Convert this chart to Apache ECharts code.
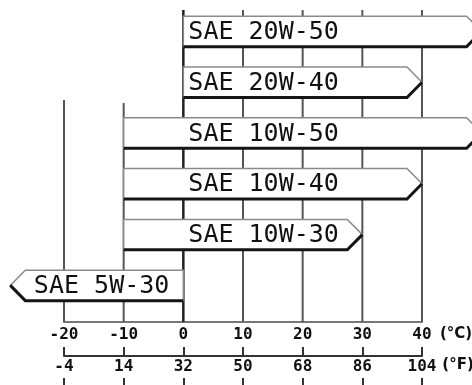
<!DOCTYPE html>
<html>
<head>
<meta charset="utf-8">
<script src="https://cdn.jsdelivr.net/npm/echarts@6/dist/echarts.min.js"></script>
<style>
  html, body { margin: 0; padding: 0; background: #fff; }
  #chart { width: 472px; height: 385px; }
</style>
</head>
<body>
<div id="chart"></div>
<script>
// Oil grades and the ambient temperature range (°C) each one covers.
// The arrow head sits at the "to" end.
const grades = ['SAE 20W-50', 'SAE 20W-40', 'SAE 10W-50', 'SAE 10W-40', 'SAE 10W-30', 'SAE 5W-30'];
const fromC  = [0, 0, -10, -10, -10, 0];
const toC    = [50, 40, 50, 40, 30, -29];

// Temperature scale ticks: Celsius values and their Fahrenheit equivalents.
const celsiusTicks    = [-20, -10, 0, 10, 20, 30, 40];
const fahrenheitTicks = [-4, 14, 32, 50, 68, 86, 104];

// Where each vertical reference line starts (in row units, rows counted from the top).
const lineTop = [1.35, 1.41, -0.42, -0.42, -0.42, -0.42, -0.42];

const ROW_MIN = -0.5, ROW_MAX = 5.72;
const FONT = '"DejaVu Sans Mono", "Liberation Mono", monospace';

const chart = echarts.init(document.getElementById('chart'), null, { renderer: 'canvas' });

function renderLine(params, api) {
  const v = api.value(0);
  const p0 = api.coord([v, api.value(1)]);
  const p1 = api.coord([v, ROW_MAX]);
  return {
    type: 'line',
    shape: { x1: p0[0], y1: p0[1], x2: p1[0], y2: p1[1] },
    style: { stroke: v === 0 ? '#222' : '#555', lineWidth: v === 0 ? 2.5 : 2 }
  };
}

function renderBar(params, api) {
  const row = api.value(0), from = api.value(1), to = api.value(2);
  const yc = api.coord([0, row])[1];
  const h = api.size([0, 1])[1] * 0.3;
  const x0 = api.coord([from, row])[0];
  const x1 = api.coord([to, row])[0];
  const dir = x1 > x0 ? 1 : -1;
  const head = 15;
  const xb = x1 - dir * head;
  const top = yc - h, bot = yc + h;
  const zero = api.coord([0, row])[0];
  return {
    type: 'group',
    children: [
      {
        type: 'polygon',
        shape: { points: [[x0, top], [xb, top], [x1, yc], [xb, bot], [x0, bot]] },
        style: { fill: '#fff', stroke: '#8a8a8a', lineWidth: 1.5 }
      },
      {
        type: 'polyline',
        shape: { points: [[x0, bot], [xb, bot], [x1, yc]] },
        style: { fill: null, stroke: '#151515', lineWidth: 3 }
      },
      {
        type: 'text',
        style: {
          text: grades[params.dataIndex],
          x: dir > 0 ? zero + 5 : zero - 14,
          y: yc + 1,
          align: dir > 0 ? 'left' : 'right',
          verticalAlign: 'middle',
          font: 'normal 25px ' + FONT,
          fill: '#111'
        }
      }
    ]
  };
}

const axisBase = {
  type: 'value',
  min: celsiusTicks[0],
  max: celsiusTicks[celsiusTicks.length - 1],
  interval: 10,
  position: 'bottom',
  splitLine: { show: false }
};

const nameStyle = (pad) => ({
  color: '#111', fontSize: 15, fontWeight: 'bold', fontFamily: '"DejaVu Sans", sans-serif',
  align: 'left', verticalAlign: 'top', padding: [pad, 0, 0, 0]
});

chart.setOption({
  backgroundColor: '#fff',
  animation: false,
  grid: { left: 64, right: 50, top: 6, bottom: 63, containLabel: false, outerBoundsMode: 'none' },
  xAxis: [
    Object.assign({}, axisBase, {
      axisLine: { show: true, onZero: false, lineStyle: { color: '#777', width: 2 } },
      axisTick: { show: false },
      axisLabel: { margin: 5, color: '#111', fontSize: 16, fontWeight: 'bold', fontFamily: FONT },
      name: '(°C)', nameLocation: 'end', nameGap: 18,
      nameTextStyle: nameStyle(5)
    }),
    Object.assign({}, axisBase, {
      offset: 34,
      axisLine: { show: true, onZero: false, lineStyle: { color: '#333', width: 2 } },
      axisTick: { show: true, inside: true, length: 9, lineStyle: { color: '#333', width: 2 } },
      axisLabel: {
        margin: 3, color: '#111', fontSize: 16, fontWeight: 'bold', fontFamily: FONT,
        formatter: v => String(fahrenheitTicks[celsiusTicks.indexOf(v)])
      },
      name: '(°F)', nameLocation: 'end', nameGap: 14,
      nameTextStyle: nameStyle(2)
    }),
    Object.assign({}, axisBase, {
      offset: 56,
      axisLine: { show: false, onZero: false },
      axisTick: { show: true, length: 10, lineStyle: { color: '#333', width: 2 } },
      axisLabel: { show: false }
    })
  ],
  yAxis: {
    type: 'value', min: ROW_MIN, max: ROW_MAX, inverse: true, show: false
  },
  series: [
    {
      type: 'custom',
      xAxisIndex: 0,
      z: 1,
      renderItem: renderLine,
      data: celsiusTicks.map((v, i) => [v, lineTop[i]])
    },
    {
      type: 'custom',
      xAxisIndex: 0,
      z: 2,
      clip: false,
      renderItem: renderBar,
      data: grades.map((g, i) => [i, fromC[i], toC[i]])
    }
  ]
});
</script>
</body>
</html>
